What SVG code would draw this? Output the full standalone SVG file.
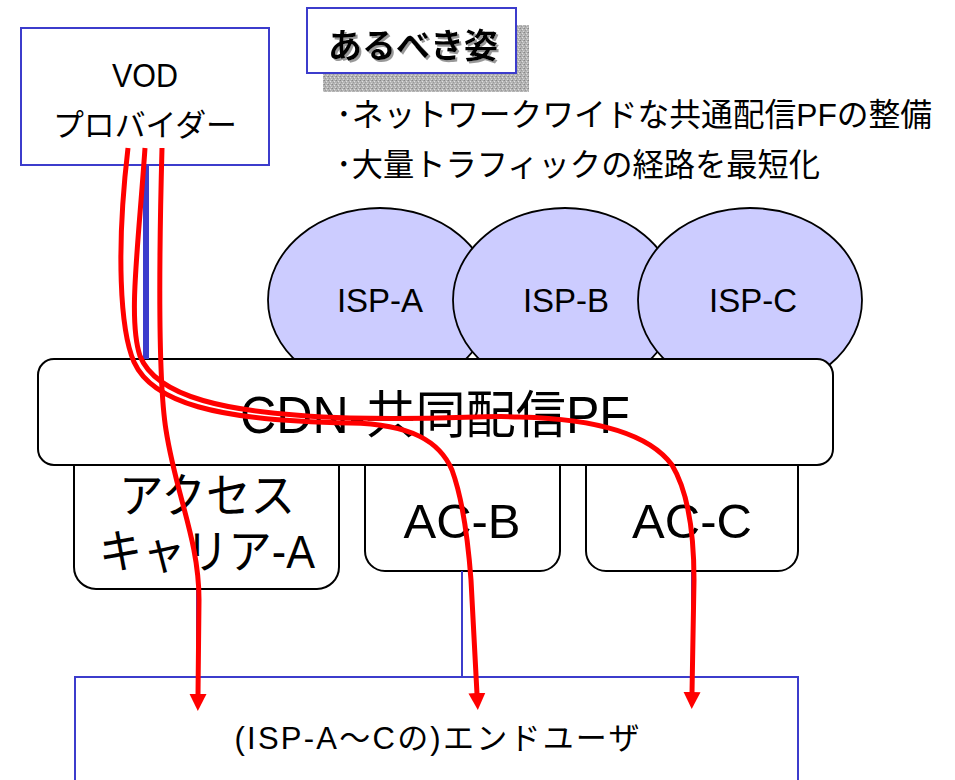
<svg xmlns="http://www.w3.org/2000/svg" width="955" height="780" viewBox="0 0 955 780">
<style>
.jp{font-family:"Liberation Sans","Noto Sans CJK JP",sans-serif;fill:#000}
.blue{fill:#fff;stroke:#3c3ccc;stroke-width:2}
.isp{fill:#ccccff;stroke:#000;stroke-width:1.8}
.rbox{fill:#fff;stroke:#000;stroke-width:2}
.red{fill:none;stroke:#ff0000;stroke-width:5;stroke-linecap:butt;marker-end:url(#ah)}
.thin{stroke:#3c3ccc;stroke-width:2;fill:none}
</style>
<defs>
<marker id="ah" markerUnits="userSpaceOnUse" markerWidth="20" markerHeight="20" viewBox="0 -10 20 20" refX="1" refY="0" orient="auto">
<path d="M0,-8.5 L17,0 L0,8.5 z" fill="#ff0000"/>
</marker>
<pattern id="stip" width="4" height="4" patternUnits="userSpaceOnUse">
<rect width="4" height="4" fill="#b4b4b4"/>
<rect x="0" y="0" width="1" height="1" fill="#888"/>
<rect x="2" y="1" width="1" height="1" fill="#e0e0e0"/>
<rect x="1" y="2" width="1" height="1" fill="#999"/>
<rect x="3" y="3" width="1" height="1" fill="#d8d8d8"/>
<rect x="3" y="0" width="1" height="1" fill="#a0a0a0"/>
</pattern>
<filter id="tshadow" x="-10%" y="-20%" width="130%" height="150%">
<feDropShadow dx="2" dy="2" stdDeviation="0.5" flood-color="#999" flood-opacity="1"/>
</filter>
</defs>

<g id="title">
<rect x="323" y="25" width="206" height="67" fill="url(#stip)"/>
<rect x="307" y="8" width="209" height="65" class="blue"/>
<text x="413" y="58" font-size="34" font-weight="bold" text-anchor="middle" class="jp" filter="url(#tshadow)">あるべき姿</text>
</g>

<g id="bullets">
<text x="336" y="126" font-size="32" class="jp" textLength="596" lengthAdjust="spacingAndGlyphs">･ネットワークワイドな共通配信PFの整備</text>
<text x="336" y="176" font-size="32" class="jp" textLength="484" lengthAdjust="spacingAndGlyphs">･大量トラフィックの経路を最短化</text>
</g>

<g id="isp-a"><ellipse cx="380" cy="300" rx="112" ry="92" class="isp"/><text x="380" y="312" font-size="33" text-anchor="middle" class="jp">ISP-A</text></g>
<g id="isp-b"><ellipse cx="565" cy="300" rx="112" ry="92" class="isp"/><text x="566" y="312" font-size="33" text-anchor="middle" class="jp">ISP-B</text></g>
<g id="isp-c"><ellipse cx="750" cy="300" rx="112" ry="92" class="isp"/><text x="753" y="312" font-size="33" text-anchor="middle" class="jp">ISP-C</text></g>

<g id="vod">
<rect x="21" y="28" width="248" height="137" class="blue"/>
<text x="145" y="87" font-size="33" text-anchor="middle" class="jp" textLength="66" lengthAdjust="spacingAndGlyphs">VOD</text>
<text x="145" y="136" font-size="31" text-anchor="middle" class="jp" textLength="184" lengthAdjust="spacingAndGlyphs">プロバイダー</text>
</g>

<g id="ac-a"><rect x="74" y="440" width="265" height="149" rx="22" class="rbox"/>
<text x="207" y="512" font-size="47" text-anchor="middle" class="jp" textLength="176" lengthAdjust="spacingAndGlyphs">アクセス</text>
<text x="207" y="568" font-size="47" text-anchor="middle" class="jp" textLength="216" lengthAdjust="spacingAndGlyphs">キャリア-A</text></g>
<g id="ac-b"><rect x="365" y="440" width="195" height="131" rx="20" class="rbox"/>
<text x="462" y="538" font-size="49" text-anchor="middle" class="jp">AC-B</text></g>
<g id="ac-c"><rect x="586" y="440" width="212" height="131" rx="20" class="rbox"/>
<text x="692" y="538" font-size="49" text-anchor="middle" class="jp">AC-C</text></g>

<g id="cdn"><rect x="38" y="359" width="795" height="106" rx="16" class="rbox"/>
<text x="435" y="433" font-size="51" text-anchor="middle" class="jp" textLength="390" lengthAdjust="spacingAndGlyphs">CDN-共同配信PF</text></g>

<g id="enduser"><rect x="75" y="677" width="723" height="130" class="blue"/>
<text x="437" y="749" font-size="31" text-anchor="middle" class="jp" textLength="405" lengthAdjust="spacing">(ISP-A～Cの)エンドユーザ</text></g>

<g id="connectors">
<line x1="146" y1="165" x2="146" y2="359" stroke="#3c3ccc" stroke-width="6"/>
<line x1="197" y1="589" x2="197" y2="677" class="thin"/>
<line x1="462" y1="571" x2="462" y2="677" class="thin"/>
<line x1="692" y1="571" x2="692" y2="677" class="thin"/>
<path class="red" d="M162,148 C159,260 158,380 166,430 C176,495 199,540 199,600 L198,695"/>
<path class="red" d="M128,148 C116,250 120,330 134,362 C152,402 215,421 350,423 C412,424 440,442 452,470 C463,500 468,540 471,580 L477,694"/>
<path class="red" d="M145,148 C138,250 128,320 140,356 C156,396 222,414 350,418 C450,420 480,415 520,417 C600,419 650,435 672,465 C690,495 694,540 694,580 L692,693"/>
</g>
</svg>
